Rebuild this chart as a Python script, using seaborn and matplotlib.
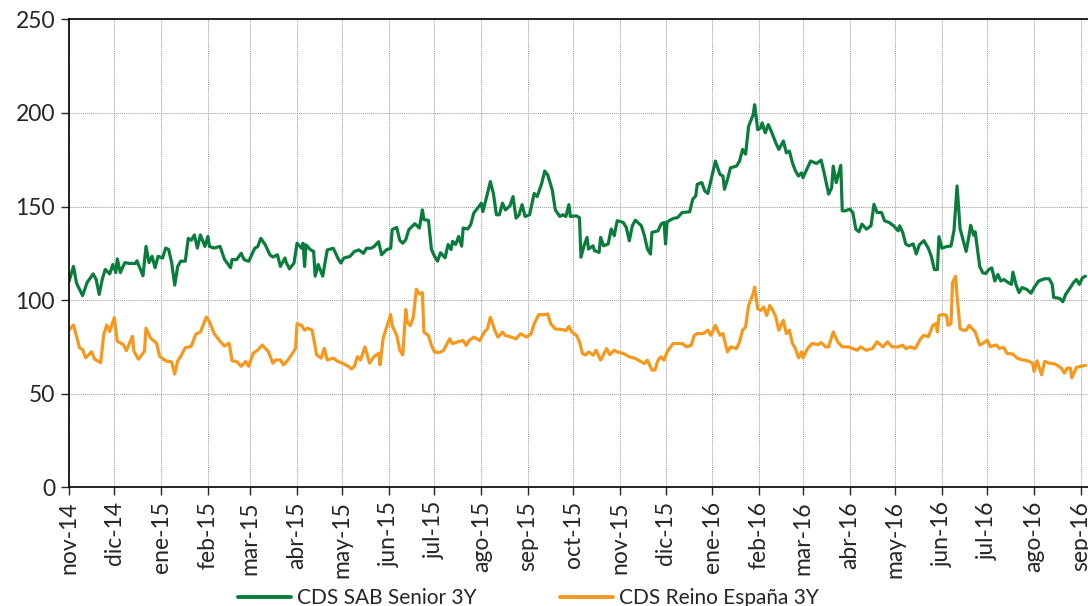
import numpy as np
import pandas as pd
import seaborn as sns
import matplotlib.pyplot as plt

start = pd.Timestamp("2014-11-01")

# days since 1-nov-2014 and value (bp)
green_days = [0, 3, 5, 9, 12, 16, 18, 20, 22, 24, 27, 29, 31, 32, 34, 37, 40, 44, 45, 49,
              51, 53, 55, 57, 59, 62, 64, 66, 68, 70, 72, 74, 77, 79, 81, 83, 85, 87, 90, 92,
              93, 96, 100, 103, 107, 108,
              111, 114, 116, 119, 123, 125, 127, 130, 133, 135, 138, 140, 143, 144, 146, 149,
              151, 154, 155, 156, 157, 160, 162, 163, 165, 168, 171, 175, 178, 180, 182, 186,
              189, 192, 195, 197, 200, 202, 205, 207, 210, 213, 214, 217, 219, 221,
              223, 225, 229, 232, 234, 235, 238, 240, 242, 244, 246, 249, 251, 253, 254, 256,
              258, 260, 261, 264, 266, 268, 271, 273, 274, 276, 279, 281, 283, 285, 287, 289,
              292, 294, 296, 298, 300, 302, 305, 308, 310, 313, 315, 317, 320, 322, 325, 327,
              329, 331, 332,
              336, 338, 339, 341, 343, 344, 347, 348, 351, 352, 354, 357, 359, 361, 363, 367,
              369, 371, 373, 375, 379, 381, 383, 385, 386, 390, 392, 394, 395, 396, 400, 403,
              406, 411, 413, 415, 416, 419, 421, 423, 426, 428, 431, 433, 434, 436, 438, 442,
              444, 446,
              448, 450, 453, 454, 456, 458, 459, 461, 463, 465, 468, 470, 473, 475, 477, 479,
              481, 483, 485, 486, 489, 491, 495, 498, 500, 503, 505, 506, 508, 511, 512, 514,
              517, 519, 521, 523, 525, 528, 531, 533, 535, 538, 540, 543, 546, 549, 550, 552,
              554, 556, 559, 561,
              563, 566, 569, 571, 573, 575, 576, 578, 581, 584, 586, 588, 590, 592, 594, 596,
              597, 599, 600, 603, 605, 607, 609, 611, 613, 615, 617, 619, 622, 624, 625, 627,
              629, 631, 634, 637, 639, 642, 646, 649, 651, 652, 656, 658, 660, 663, 665, 667,
              669, 671, 673]
green_vals = [110, 118, 109, 102.4, 109.4, 114, 111, 103, 111, 116.4, 114, 119, 114.7, 122, 114.7, 120, 119.6, 119.6, 121, 113,
              128.7, 120, 123.4, 117.3, 123.4, 122.5, 127.8, 127, 120, 108, 118, 120.8, 120.8, 133, 132, 134.8, 127.8, 134.8, 128.7, 134,
              128.7, 127.8, 128.7, 121.7, 117.3, 121.7,
              121.6, 125, 121.6, 120.7, 127.7, 128.6, 133, 129.5, 124.2, 123, 124.2, 118, 122.5, 119.8, 116.7, 119.8,
              130.4, 127.7, 130.4, 118, 129.5, 126.8, 126, 112.8, 119, 112.8, 126.8, 127.7, 122.5, 119.8, 122.5, 123.3,
              126, 126.8, 125, 127.7, 127.7, 128.6, 131.2, 124.2, 126.8, 127.7, 137.7, 138.8, 132, 130.4,
              132.3, 137.6, 140.8, 138.5, 148.2, 143, 142.6, 127, 123.5, 120.8, 125.3, 122.6, 129.7, 127, 131.4, 129.7,
              134, 128.8, 138.5, 138, 140.3, 146.5, 149.6, 151.8, 147.3, 153.5, 163.3, 157, 145.6, 145.6, 151.8, 148.2,
              150.4, 155.3, 143.8, 145.6, 151, 144.7, 145.6, 157, 155.3, 162.4, 169, 166.8, 158.8, 148.2, 144.7, 145.6,
              144.7, 151, 144.7,
              145, 144, 122.9, 129, 133.5, 127.3, 129, 126.4, 125.5, 133.5, 129, 130, 138, 134.4, 142.4, 141.5,
              138.8, 131.7, 139.7, 142.7, 139.7, 134.4, 127.3, 124.6, 136.2, 137, 140.6, 141.5, 130, 141.8, 143.6, 144.1,
              146.8, 147.2, 153.9, 155.7, 161.9, 162.8, 158.3, 157, 167.2, 174.3, 167.2, 166.3, 159.2, 164.5, 170.7, 171.6,
              174.3, 180.5,
              178, 192.9, 199.1, 204.4, 191.1, 192, 194.7, 189.4, 193.8, 190.2, 184, 180.5, 185, 178.7, 179.6, 173.4,
              169, 166.3, 168, 165.4, 170.7, 174.3, 173, 174.8, 168, 156.6, 160.1, 171.6, 162.8, 172, 147.7, 147.7,
              148.6, 146.8, 137.9, 136.5, 140.6, 137.9, 139.7, 151.2, 146.8, 146.8, 142.4, 141.5, 139.7, 137, 139.7, 136.2,
              130, 129, 130, 124.6,
              129.5, 131.8, 127.7, 123.3, 116.3, 116.3, 133.9, 127.7, 128.6, 128.9, 137.4, 161, 138.2, 132.1, 126, 134.7,
              140, 134.7, 136.5, 118, 114.6, 114.2, 116.3, 117.2, 110.2, 113.7, 110.2, 111, 109.3, 108.4, 114.9, 108.4,
              104, 106.7, 105.8, 103.7, 106.7, 110.2, 111.4, 111.4, 108.4, 101.4, 100.9, 99.1, 103.2, 106.7, 109.3, 111,
              108.4, 111.9, 112.8]

orange_days = [0, 3, 7, 9, 11, 15, 17, 21, 23, 25, 27, 30, 32, 36, 38, 42, 43, 46, 50, 51,
               54, 58, 60, 64, 68, 70, 72, 74, 77, 81, 84, 87, 91, 93, 96, 100, 103, 106, 108,
               111, 114, 117, 119, 122, 125, 128, 132, 135, 137, 140, 142, 145, 148, 150, 151,
               154, 156, 158, 161, 164, 167, 169, 171, 175, 178, 181, 185, 187, 189, 191, 193,
               196, 199, 202, 205, 206, 208, 210, 213, 214, 217, 219, 221,
               223, 224, 226, 228, 230, 232, 234, 235, 238, 240, 242, 245, 248, 252, 254, 257,
               261, 263, 265, 268, 272, 275, 277, 279, 282, 284, 287, 289, 293, 296, 299, 303,
               306, 308, 311, 315, 317, 319, 322, 326, 329, 331, 333,
               336, 338, 340, 342, 344, 347, 349, 352, 356, 358, 361, 363, 367, 371, 375, 379,
               381, 383, 386, 388, 390, 392, 394, 396, 400, 403, 406, 409, 412, 414, 416, 420,
               423, 425, 428, 431, 433, 436, 438, 442, 444, 446,
               448, 450, 453, 454, 456, 458, 460, 462, 464, 466, 468, 470, 473, 475, 477, 479,
               481, 483, 485, 486, 489, 492, 496, 498, 501, 503, 506, 509, 512, 516, 519, 522,
               524, 528, 532, 535, 539, 542, 545, 549, 552, 554, 557, 560,
               561, 564, 566, 569, 572, 574, 575, 576, 579, 581, 582, 584, 585, 587, 588, 590,
               592, 594, 596, 598, 600, 603, 605, 608, 610, 614, 616, 619, 621, 625, 628, 631,
               635, 638, 639, 641, 644, 646, 649, 653, 657, 659, 661, 663, 664, 667, 670, 673]
orange_vals = [84, 86.7, 74.5, 73.6, 69.2, 72.4, 68.4, 66.6, 81.5, 86.7, 83.2, 90.6, 78, 76.2, 73, 80.6, 72.7, 68.4, 72.7, 85,
               79.7, 77, 70, 67.5, 67, 60.5, 67.5, 70, 74.5, 75.4, 81.8, 82.9, 91, 88.5, 82.3, 78, 75.4, 77, 67.5,
               67.2, 64.6, 67.2, 64.6, 71.6, 73.3, 76, 72.5, 66.3, 68, 68, 65.4, 68, 71.6, 74.2, 87.4,
               86.5, 83.9, 85, 83.9, 70.7, 69, 74.2, 68, 69, 67.2, 66.3, 64.6, 63.2, 64.6, 69.8, 68,
               75, 66.3, 69.8, 71.6, 65.4, 79.5, 84.7, 92.3, 86.5, 81.2, 73.3, 70.7,
               95, 88.2, 86.4, 90.8, 105.8, 103.2, 104, 82.9, 81.1, 75.8, 72.3, 71.9, 73.1, 79.3, 76.7, 77.6,
               78.4, 75.8, 78.4, 80.2, 78.4, 82.9, 84.6, 90.8, 83.7, 80.2, 82.9, 81.1, 80.2, 79.3, 82, 80.2,
               82, 87.3, 92.2, 92.2, 92.6, 87.3, 84.6, 84.3, 83.7, 85.9, 82.9,
               81.2, 77.7, 71.5, 70.6, 72.3, 70.6, 73.2, 67.9, 74.1, 70.9, 73.2, 72.3, 71.5, 69.7, 68.8, 67,
               66.1, 67.9, 62.6, 62.6, 67.9, 69.7, 67.9, 72.3, 76.8, 76.8, 76.8, 75, 75.9, 81.2, 82.1, 82.1,
               83.9, 81.2, 86.5, 81.2, 82.1, 72.3, 75, 74.1, 77.7, 83.9,
               85.6, 97.2, 103.4, 106.9, 95.4, 94.5, 96.3, 91.8, 97.2, 94.5, 91, 83.9, 89.2, 82.1, 83.9, 76.8,
               74.1, 69.1, 72.3, 69.1, 74.1, 76.8, 76.2, 77.3, 75, 75, 83, 77.7, 75, 75, 74.1, 73.2,
               75, 73.2, 74.1, 77.7, 75, 77.7, 75, 75, 75.9, 74.1, 75, 74.1,
               75.1, 79.5, 81.2, 80.4, 86.5, 87.4, 83, 91.8, 92.3, 91.8, 86.5, 87.4, 109.3, 112.8, 102.3, 84.7,
               83.9, 83.9, 86.5, 84.7, 83, 76, 76.8, 78.6, 75.1, 76, 74.2, 74.6, 71.6, 71.1, 68.9, 68.1,
               67.5, 66.3, 61.9, 67.5, 60.1, 67.2, 66.3, 65.8, 63.7, 61, 63.7, 63.7, 58.4, 64, 64.6, 65.1]

month_labels = ["nov-14", "dic-14", "ene-15", "feb-15", "mar-15", "abr-15", "may-15", "jun-15",
                "jul-15", "ago-15", "sep-15", "oct-15", "nov-15", "dic-15", "ene-16", "feb-16",
                "mar-16", "abr-16", "may-16", "jun-16", "jul-16", "ago-16", "sep-16"]

series_names = ["CDS SAB Senior 3Y", "CDS Reino España 3Y"]
colors = ["#0a7d3c", "#f7981d"]

df = pd.concat([
    pd.DataFrame({"fecha": start + pd.to_timedelta(green_days, unit="D"),
                  "valor": green_vals, "serie": series_names[0]}),
    pd.DataFrame({"fecha": start + pd.to_timedelta(orange_days, unit="D"),
                  "valor": orange_vals, "serie": series_names[1]}),
])

sns.set_style("white")
plt.rcParams["font.family"] = ["Lato", "DejaVu Sans"]
fs = 16.5

fig = plt.figure(figsize=(10.88, 6.06), dpi=100)
ax = fig.add_axes([0.0634, 0.196, 0.9366, 0.772])

sns.lineplot(data=df, x="fecha", y="valor", hue="serie", palette=colors,
             linewidth=2.3, ax=ax, legend=False, estimator=None, sort=False)

ticks = pd.date_range("2014-11-01", periods=len(month_labels), freq="MS")
ax.set_xticks(ticks)
ax.set_xticklabels(month_labels, rotation=90, fontsize=fs)
ax.set_xlim(start, start + pd.Timedelta(days=674.7))
ax.set_ylim(0, 250)
ax.set_yticks(np.arange(0, 251, 50))
ax.tick_params(axis="y", labelsize=fs, length=6, width=1, direction="out", left=True, pad=4)
ax.tick_params(axis="x", length=6, width=1, direction="out", bottom=True, pad=4)
ax.set_xlabel("")
ax.set_ylabel("")

ax.grid(True, color="#999999", linestyle=(0, (1, 1)), linewidth=0.7)
ax.set_axisbelow(True)
for side in ["left", "bottom", "top"]:
    ax.spines[side].set_visible(True)
    ax.spines[side].set_color("black")
    ax.spines[side].set_linewidth(1.2)
ax.spines["right"].set_visible(False)

handles = [plt.Line2D([], [], color=c, linewidth=2.8) for c in colors]
fig.legend(handles, series_names, loc="center", bbox_to_anchor=(0.4858, 0.013),
           ncol=2, frameon=False, fontsize=15, handlelength=2.55,
           columnspacing=4.0, handletextpad=0.3)

fig.savefig("out.png", dpi=100)
